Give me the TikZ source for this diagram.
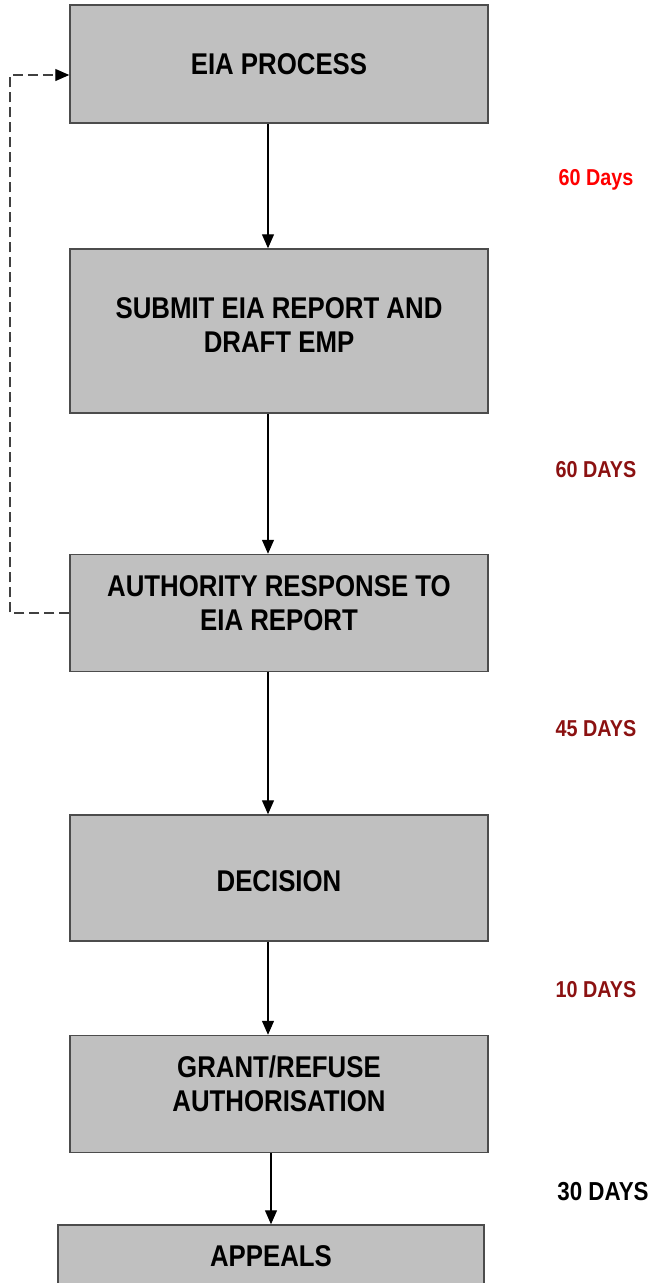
\documentclass[tikz,border=0pt]{standalone}
\usepackage{fontspec}
\setmainfont{Liberation Sans}[FakeStretch=0.86]
\usetikzlibrary{arrows.meta}
\definecolor{boxgray}{HTML}{C0C0C0}
\definecolor{daysred}{HTML}{FF0000}
\definecolor{daysdark}{HTML}{8B1111}
\begin{document}
\begin{tikzpicture}[x=1pt,y=-1pt,
    stage/.style={draw=black!70,line width=1.5pt,fill=boxgray,minimum width=418pt,
      align=center,inner sep=0pt,font=\fontsize{30}{34}\selectfont\bfseries},
    days/.style={font=\fontsize{23}{26}\selectfont\bfseries},
    flow/.style={-{Triangle[length=14pt,width=12pt]},line width=1.3pt},
    back/.style={-{Triangle[length=14pt,width=12pt,color=black]},draw=black!75,
      line width=1.2pt,dash pattern=on 10pt off 5pt}]
    \useasboundingbox (0,0) rectangle (653,1283);
    \clip (0,0) rectangle (653,1283);
    % stages
    \node [stage,minimum height=118pt] (eia) at (279,64) {EIA PROCESS};
    \node [stage,minimum height=164pt,text depth=12pt] (submit) at (279,331) {SUBMIT EIA REPORT AND\\DRAFT EMP};
    \node [stage,minimum height=117pt,text depth=20pt] (auth) at (279,613) {AUTHORITY RESPONSE TO\\EIA REPORT};
    \node [stage,minimum height=126pt,text height=27pt] (decision) at (279,878) {DECISION};
    \node [stage,minimum height=117pt,text depth=20pt] (grant) at (279,1094) {GRANT/REFUSE\\AUTHORISATION};
    \node [stage,minimum width=426pt,minimum height=62pt] (appeals) at (271,1256) {APPEALS};
    % time allowed
    \node [days,text=daysred] (d1) at (596,180) {60 Days};
    \node [days,text=daysdark] (d2) at (596,470) {60 DAYS};
    \node [days,text=daysdark] (d3) at (596,729) {45 DAYS};
    \node [days,text=daysdark] (d4) at (596,990) {10 DAYS};
    \node [days,font=\fontsize{26}{30}\selectfont\bfseries] (d5) at (603,1192) {30 DAYS};
    % arrows
    \draw [flow] (eia.south -| 268,0) to (submit.north -| 268,0);
    \draw [flow] (submit.south -| 268,0) to (auth.north -| 268,0);
    \draw [flow] (auth.south -| 268,0) to (decision.north -| 268,0);
    \draw [flow] (decision.south -| 268,0) to (grant.north -| 268,0);
    \draw [flow] (grant.south -| appeals.north) to (appeals.north);
    \coordinate (loop) at (10,75);
    \draw [back] (auth.west) -| (loop) -- (eia.west |- loop);
\end{tikzpicture}
\end{document}
